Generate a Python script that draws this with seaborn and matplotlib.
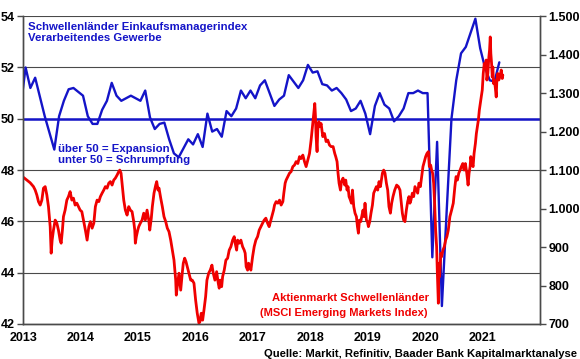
import numpy as np
import pandas as pd
import seaborn as sns
import matplotlib.pyplot as plt

# Schwellenländer PMI (Verarbeitendes Gewerbe), monthly, Dec 2012 - Apr 2021
pmi = [50.5,
       52.0, 51.2, 51.6, 50.85, 50.1, 49.45, 48.8, 50.1, 50.7, 51.15, 51.2, 51.05,
       50.9, 50.1, 49.8, 49.8, 50.35, 50.7, 51.4, 50.9, 50.7, 50.8, 50.9, 50.8,
       50.7, 51.1, 50.05, 49.6, 49.8, 49.85, 49.2, 48.65, 48.5, 48.85, 49.2, 49.0,
       49.4, 48.9, 50.2, 49.5, 49.6, 49.3, 50.3, 50.1, 50.4, 51.1, 50.8, 51.1,
       50.8, 51.3, 51.5, 51.0, 50.5, 50.75, 50.9, 51.7, 51.45, 51.2, 51.5, 52.1,
       51.8, 51.85, 51.35, 51.3, 51.1, 51.2, 51.0, 50.75, 50.3, 50.4, 50.7, 50.2,
       49.4, 50.5, 51.0, 50.55, 50.4, 49.9, 50.1, 50.4, 51.0, 51.0, 51.1, 51.0,
       51.0, 44.6, 49.1, 42.7, 46.4, 50.0, 51.5, 52.55, 52.8, 53.35, 53.9, 52.75,
       52.0, 51.5, 51.45, 52.2]

# MSCI Emerging Markets Index (decimal year, index level)
msci_t = [2013.005, 2013.064, 2013.122, 2013.179, 2013.209, 2013.238, 2013.266, 2013.296, 2013.325, 2013.353,
          2013.383, 2013.412, 2013.44, 2013.47, 2013.487, 2013.504, 2013.527, 2013.557, 2013.586, 2013.614,
          2013.643, 2013.661, 2013.683, 2013.701, 2013.73, 2013.76, 2013.788, 2013.817, 2013.847, 2013.875,
          2013.904, 2013.934, 2013.962, 2013.991, 2014.021, 2014.049, 2014.083, 2014.113, 2014.143, 2014.17,
          2014.2, 2014.23, 2014.257, 2014.287, 2014.317, 2014.344, 2014.374, 2014.403, 2014.431, 2014.461,
          2014.49, 2014.518, 2014.548, 2014.577, 2014.605, 2014.635, 2014.664, 2014.682, 2014.704, 2014.722,
          2014.751, 2014.779, 2014.809, 2014.838, 2014.866, 2014.896, 2014.925, 2014.943, 2014.953, 2014.97,
          2014.995, 2015.012, 2015.04, 2015.07, 2015.099, 2015.127, 2015.157, 2015.187, 2015.204, 2015.231,
          2015.249, 2015.278, 2015.308, 2015.325, 2015.348, 2015.365, 2015.395, 2015.423, 2015.452, 2015.482,
          2015.51, 2015.539, 2015.569, 2015.597, 2015.626, 2015.656, 2015.666, 2015.683, 2015.713, 2015.743,
          2015.77, 2015.788, 2015.812, 2015.835, 2015.857, 2015.887, 2015.917, 2015.944, 2015.974, 2016.003,
          2016.031, 2016.061, 2016.078, 2016.101, 2016.125, 2016.148, 2016.177, 2016.2, 2016.23, 2016.257,
          2016.287, 2016.31, 2016.339, 2016.369, 2016.397, 2016.414, 2016.431, 2016.456, 2016.473, 2016.501,
          2016.53, 2016.56, 2016.588, 2016.617, 2016.647, 2016.675, 2016.692, 2016.717, 2016.734, 2016.762,
          2016.791, 2016.821, 2016.849, 2016.866, 2016.883, 2016.908, 2016.925, 2016.948, 2016.965, 2016.995,
          2017.023, 2017.052, 2017.082, 2017.11, 2017.139, 2017.169, 2017.197, 2017.226, 2017.256, 2017.283,
          2017.33, 2017.36, 2017.377, 2017.405, 2017.435, 2017.464, 2017.492, 2017.522, 2017.539, 2017.562,
          2017.579, 2017.609, 2017.638, 2017.666, 2017.696, 2017.725, 2017.753, 2017.783, 2017.812, 2017.84,
          2017.87, 2017.899, 2017.927, 2017.957, 2017.986, 2018.014, 2018.043, 2018.061, 2018.078, 2018.09,
          2018.101, 2018.118, 2018.13, 2018.148, 2018.17, 2018.188, 2018.217, 2018.247, 2018.275, 2018.304,
          2018.334, 2018.362, 2018.397, 2018.426, 2018.443, 2018.466, 2018.483, 2018.501, 2018.525, 2018.543,
          2018.57, 2018.6, 2018.617, 2018.64, 2018.657, 2018.675, 2018.699, 2018.716, 2018.734, 2018.757,
          2018.779, 2018.803, 2018.821, 2018.838, 2018.856, 2018.878, 2018.901, 2018.918, 2018.936, 2018.953,
          2018.977, 2018.995, 2019.012, 2019.035, 2019.057, 2019.082, 2019.104, 2019.127, 2019.151, 2019.174,
          2019.197, 2019.221, 2019.238, 2019.256, 2019.278, 2019.301, 2019.325, 2019.348, 2019.37, 2019.395,
          2019.417, 2019.44, 2019.47, 2019.504, 2019.534, 2019.562, 2019.579, 2019.603, 2019.626, 2019.649,
          2019.673, 2019.696, 2019.718, 2019.736, 2019.753, 2019.777, 2019.8, 2019.823, 2019.847, 2019.87,
          2019.892, 2019.917, 2019.939, 2019.962, 2019.986, 2020.009, 2020.031, 2020.056, 2020.073, 2020.096,
          2020.113, 2020.13, 2020.148, 2020.165, 2020.183, 2020.2, 2020.212, 2020.23, 2020.24, 2020.252,
          2020.264, 2020.275, 2020.287, 2020.31, 2020.334, 2020.357, 2020.379, 2020.403, 2020.431, 2020.461,
          2020.49, 2020.518, 2020.539, 2020.562, 2020.586, 2020.609, 2020.631, 2020.656, 2020.678, 2020.701,
          2020.725, 2020.748, 2020.765, 2020.783, 2020.795, 2020.817, 2020.835, 2020.852, 2020.875, 2020.892,
          2020.91, 2020.927, 2020.944, 2020.96, 2020.977, 2020.995, 2021.012, 2021.03, 2021.047, 2021.064,
          2021.075, 2021.092, 2021.11, 2021.122, 2021.134, 2021.144, 2021.157, 2021.169, 2021.179, 2021.191,
          2021.203, 2021.221, 2021.238, 2021.249, 2021.266, 2021.283, 2021.308, 2021.325, 2021.343, 2021.353]
msci = [1081, 1074, 1067, 1057, 1048, 1035, 1018, 1009, 1022, 1053,
        1057, 1035, 1005, 953, 884, 918, 944, 970, 962, 944,
        918, 910, 944, 979, 996, 1022, 1031, 1044, 1022, 1027,
        1009, 1014, 1005, 996, 992, 970, 944, 918, 953, 966,
        949, 962, 1005, 1022, 1018, 1031, 1040, 1048, 1057, 1053,
        1066, 1070, 1061, 1074, 1079, 1087, 1096, 1100, 1092, 1066,
        1022, 996, 983, 1005, 996, 992, 966, 944, 910, 927,
        944, 953, 962, 970, 988, 970, 996, 970, 944, 975,
        1005, 1040, 1061, 1070, 1048, 1053, 1027, 1005, 979, 966,
        949, 940, 918, 892, 866, 814, 775, 797, 832, 788,
        832, 858, 871, 862, 849, 832, 814, 814, 806, 762,
        728, 702, 706, 728, 710, 736, 771, 814, 832, 840,
        853, 832, 814, 836, 806, 793, 814, 797, 823, 840,
        866, 871, 892, 901, 918, 927, 910, 892, 918, 910,
        918, 901, 892, 884, 849, 840, 858, 849, 840, 875,
        901, 918, 927, 944, 953, 962, 970, 975, 962, 953,
        979, 996, 1009, 1018, 1014, 1022, 1009, 1018, 1040, 1066,
        1074, 1083, 1092, 1096, 1109, 1113, 1122, 1117, 1135, 1130,
        1139, 1122, 1109, 1126, 1143, 1178, 1221, 1247, 1273, 1239,
        1187, 1148, 1204, 1226, 1213, 1221, 1187, 1195, 1174, 1178,
        1165, 1161, 1161, 1143, 1135, 1122, 1092, 1066, 1048, 1070,
        1079, 1061, 1074, 1048, 1057, 1031, 1022, 1014, 1048, 1005,
        988, 979, 953, 936, 970, 966, 983, 996, 979, 1014,
        970, 966, 953, 966, 988, 1009, 1040, 1048, 1057, 1048,
        1070, 1057, 1074, 1092, 1100, 1092, 1066, 1048, 1005, 988,
        1014, 1031, 1048, 1061, 1057, 1048, 1022, 988, 970, 966,
        996, 1018, 1031, 1014, 1022, 1040, 1031, 1057, 1048, 1040,
        1066, 1057, 1083, 1109, 1122, 1135, 1143, 1148, 1109, 1113,
        1100, 1092, 1066, 1014, 944, 901, 836, 754, 858, 823,
        858, 884, 875, 892, 901, 918, 927, 944, 979, 996,
        1014, 1057, 1083, 1074, 1092, 1100, 1109, 1117, 1100, 1117,
        1092, 1061, 1092, 1109, 1135, 1117, 1109, 1143, 1169, 1195,
        1213, 1230, 1256, 1273, 1290, 1308, 1351, 1377, 1368, 1386,
        1334, 1351, 1394, 1412, 1446, 1403, 1377, 1342, 1368, 1325,
        1334, 1316, 1290, 1334, 1351, 1334, 1347, 1360, 1338, 1347]

years = list(range(2013, 2022))
pmi_ticks = [42, 44, 46, 48, 50, 52, 54]
msci_ticks = [700, 800, 900, 1000, 1100, 1200, 1300, 1400, 1500]
threshold = 50

blue = '#1414C8'
red = '#F00000'
grey = '#4A4A4A'

sns.set_style('white')
plt.rcParams['font.family'] = ['Liberation Sans', 'DejaVu Sans']
plt.rcParams['font.weight'] = 'bold'

pmi_t = 2012 + (11.5 + np.arange(len(pmi))) / 12
df_pmi = pd.DataFrame({'t': pmi_t, 'pmi': pmi})
df_msci = pd.DataFrame({'t': msci_t, 'msci': msci})

fig, ax = plt.subplots(figsize=(5.8, 3.59), dpi=100)
fig.subplots_adjust(left=0.040, right=0.931, top=0.955, bottom=0.0975)

# PMI on the left axis
ax.axhline(threshold, color=blue, lw=1.8, zorder=2)
sns.lineplot(data=df_pmi, x='t', y='pmi', ax=ax, color=blue, lw=1.7, zorder=3)
ax.set_ylim(42, 54)
ax.set_yticks(pmi_ticks)
ax.set_xlim(2013, 2022)
ax.set_xticks(years)
ax.set_xticklabels([str(y) for y in years])
ax.grid(axis='y', color=grey, lw=0.8)
ax.set_axisbelow(True)
ax.set_xlabel('')
ax.set_ylabel('')

# MSCI EM on the right axis
ax2 = ax.twinx()
sns.lineplot(data=df_msci, x='t', y='msci', ax=ax2, color=red, lw=2.0)
ax2.set_ylim(700, 1500)
ax2.set_yticks(msci_ticks)
ax2.set_yticklabels([f'{v:,}'.replace(',', '.') for v in msci_ticks])
ax2.set_ylabel('')

for a in (ax, ax2):
    a.spines['top'].set_visible(False)
    for s in ('left', 'right', 'bottom'):
        a.spines[s].set_color(grey)
        a.spines[s].set_linewidth(1.0)
    a.tick_params(direction='out', length=4, width=1, color=grey,
                  labelsize=9, labelcolor='black', pad=2)
ax.tick_params(axis='x', pad=2)

ax.text(0.01, 0.98, 'Schwellenländer Einkaufsmanagerindex\nVerarbeitendes Gewerbe',
        transform=ax.transAxes, ha='left', va='top', color=blue,
        fontsize=8.2, fontweight='bold', linespacing=1.12)
ax.text(0.068, 0.585, 'über 50 = Expansion\nunter 50 = Schrumpfung',
        transform=ax.transAxes, ha='left', va='top', color=blue,
        fontsize=8.2, fontweight='bold', linespacing=1.18)
ax2.text(0.786, 0.085, 'Aktienmarkt Schwellenländer',
         transform=ax.transAxes, ha='right', va='center',
         color=red, fontsize=8.1, fontweight='bold')
ax2.text(0.782, 0.036, '(MSCI Emerging Markets Index)',
         transform=ax.transAxes, ha='right', va='center',
         color=red, fontsize=8.0, fontweight='bold')
fig.text(0.995, 0.0, 'Quelle: Markit, Refinitiv, Baader Bank Kapitalmarktanalyse',
         ha='right', va='bottom', fontsize=8.1, fontweight='bold', color='black')

fig.savefig('out.png', dpi=100)
